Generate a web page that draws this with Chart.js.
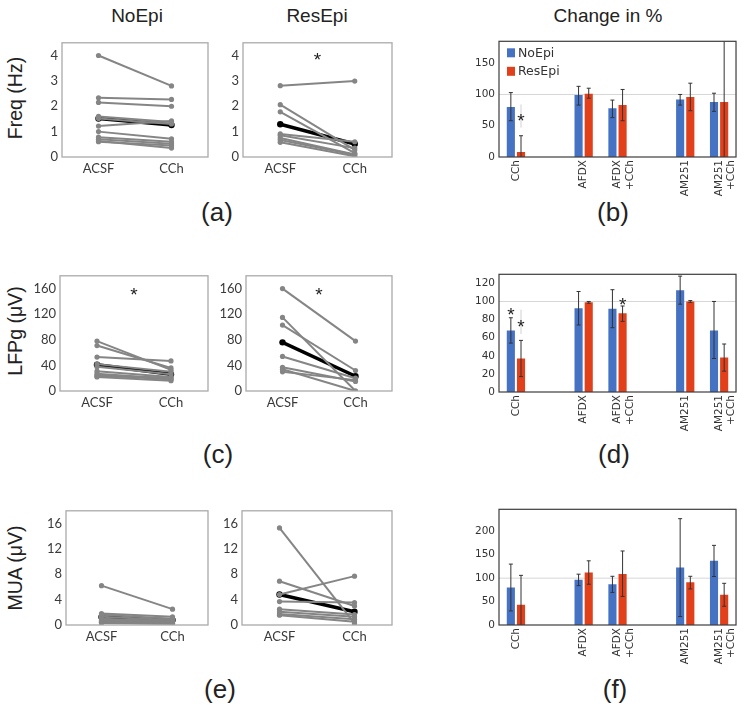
<!DOCTYPE html>
<html><head><meta charset="utf-8">
<script src="https://cdn.jsdelivr.net/npm/chart.js@4.4.1/dist/chart.umd.min.js"></script>
<style>
html,body{margin:0;padding:0;background:#fff;}
#fig{position:relative;width:745px;height:708px;overflow:hidden;font-family:"Liberation Sans",Arial,sans-serif;color:#222;}
.t{position:absolute;transform:translate(-50%,-50%);white-space:nowrap;font-size:19px;line-height:1;}
.r{position:absolute;transform:translate(-50%,-50%) rotate(-90deg);white-space:nowrap;font-size:19.5px;line-height:1;}
.l{position:absolute;transform:translate(-50%,-50%);white-space:nowrap;font-size:26px;line-height:1;}
canvas{position:absolute;}
</style></head><body>
<div id="fig">
  <div class="t" style="left:137px;top:15px">NoEpi</div>
  <div class="t" style="left:317px;top:15px">ResEpi</div>
  <div class="t" style="left:608px;top:15px">Change in %</div>
  <div class="r" style="left:16px;top:98px">Freq (Hz)</div>
  <div class="r" style="left:16px;top:331px">LFPg (μV)</div>
  <div class="r" style="left:16px;top:568px">MUA (μV)</div>
  <div class="l" style="left:217px;top:212px">(a)</div>
  <div class="l" style="left:613px;top:212px">(b)</div>
  <div class="l" style="left:218px;top:454px">(c)</div>
  <div class="l" style="left:614px;top:454px">(d)</div>
  <div class="l" style="left:220px;top:689px">(e)</div>
  <div class="l" style="left:615px;top:689px">(f)</div>
</div>
<script>
// ---------- data ----------
const conditions = ['ACSF', 'CCh'];

const freqNoEpi = [[4.0,2.8],[2.33,2.27],[2.15,2.0],[1.6,1.38],[1.52,1.3],[1.22,1.42],[1.0,0.72],[0.78,0.6],[0.7,0.52],[0.63,0.35],[0.6,0.45]];
const freqNoEpiMean = [1.52,1.26];
const freqResEpi = [[2.81,2.99],[2.06,0.28],[1.78,0.15],[0.91,0.6],[0.86,0.35],[0.75,0.1],[0.67,0.09],[0.58,0.03]];
const freqResEpiMean = [1.29,0.51];

const lfpNoEpi = [[78,33],[71,36],[53,47],[42,30],[38,26],[31,22],[27,19],[25,18],[22,16],[23,21]];
const lfpNoEpiMean = [41,26];
const lfpResEpi = [[160,78],[115,0],[103,32],[54,20],[37,15],[34,0],[30,17]];
const lfpResEpiMean = [76,23];

const muaNoEpi = [[6.2,2.5],[1.8,1.3],[1.6,1.0],[1.3,0.8],[1.0,0.6],[0.8,0.7],[0.7,0.5],[0.6,0.4],[0.5,0.3],[0.4,0.3],[0.4,0.2],[0.3,0.2]];
const muaNoEpiMean = [1.25,0.8];
const muaResEpi = [[15.3,0.25],[6.9,3.0],[4.8,7.7],[3.7,3.55],[2.5,1.65],[2.1,1.3],[1.75,0.9],[1.55,0.5]];
const muaResEpiMean = [4.8,2.1];

const freqTicks = [0,1,2,3,4];
const lfpTicks = [0,40,80,120,160];
const muaTicks = [0,4,8,12,16];

const barCategories = ['CCh','', 'AFDX', ['AFDX','+CCh'], '', 'AM251', ['AM251','+CCh']];
const seriesNames = ['NoEpi','ResEpi'];

const freqPctNoEpi = [80,null,99,78,null,92,88];
const freqPctNoEpiErr = [[58,103],null,[83,113],[63,91],null,[83,100],[73,102]];
const freqPctResEpi = [8,null,101,83,null,96,88];
const freqPctResEpiErr = [[-18,34],null,[94,110],[58,108],null,[74,118],[-10,200]];

const lfpPctNoEpi = [68,null,92.5,92,null,112.5,68];
const lfpPctNoEpiErr = [[54,82],null,[74,111],[71,113],null,[97,128],[37,100]];
const lfpPctResEpi = [37,null,99,87,null,100,38];
const lfpPctResEpiErr = [[17,57],null,[98,100],[78,95],null,[99,101],[23,53]];

const muaPctNoEpi = [80,null,96.5,87,null,123,137];
const muaPctNoEpiErr = [[30,130],null,[84,108.5],[69.5,104],null,[18,227],[103.5,170]];
const muaPctResEpi = [43,null,112,109,null,91,64.5];
const muaPctResEpiErr = [[-20,106],null,[87,137],[61,158],null,[77,104],[40,89]];

const pctTicksB = [0,50,100,150];
const pctTicksD = [0,20,40,60,80,100,120];
const pctTicksF = [0,50,100,150,200];

// ---------- styling ----------
const GRAY = '#858585';
const BLUE = '#4672c4';
const RED = '#e2401b';
const PAD_T = 10, PAD_R = 10, YW = 40;

const framePlugin = {
  id: 'frame',
  afterDraw(chart, args, o) {
    const {ctx, chartArea: a} = chart;
    ctx.save(); ctx.strokeStyle = o.color; ctx.lineWidth = o.width;
    ctx.strokeRect(a.left, a.top, a.right - a.left, a.bottom - a.top);
    ctx.restore();
  }
};
const refLinePlugin = {
  id: 'refLine',
  beforeDatasetsDraw(chart, args, o) {
    if (o.value == null) return;
    const {ctx, chartArea: a} = chart;
    const y = chart.scales.y.getPixelForValue(o.value);
    ctx.save(); ctx.strokeStyle = '#d6d6d6'; ctx.lineWidth = 1;
    ctx.beginPath(); ctx.moveTo(a.left, y); ctx.lineTo(a.right, y); ctx.stroke(); ctx.restore();
  }
};
const errPlugin = {
  id: 'errBars',
  afterDatasetsDraw(chart) {
    const {ctx, chartArea: a} = chart;
    const ys = chart.scales.y;
    ctx.save();
    ctx.beginPath(); ctx.rect(a.left, a.top, a.right - a.left, a.bottom - a.top); ctx.clip();
    ctx.strokeStyle = '#333'; ctx.lineWidth = 1;
    chart.data.datasets.forEach((ds, i) => {
      if (!ds.errors) return;
      const meta = chart.getDatasetMeta(i);
      ds.errors.forEach((e, j) => {
        if (!e) return;
        const x = meta.data[j].x;
        const y1 = ys.getPixelForValue(e[0]), y2 = ys.getPixelForValue(e[1]);
        ctx.beginPath();
        ctx.moveTo(x, y1); ctx.lineTo(x, y2);
        ctx.moveTo(x - 2, y1); ctx.lineTo(x + 2, y1);
        ctx.moveTo(x - 2, y2); ctx.lineTo(x + 2, y2);
        ctx.stroke();
      });
    });
    ctx.restore();
  }
};
const starPlugin = {
  id: 'stars',
  afterDraw(chart, args, o) {
    const {ctx} = chart;
    ctx.save();
    (o.faint || []).forEach(f => {
      const x = chart.getDatasetMeta(f.ds).data[f.cat].x;
      ctx.strokeStyle = '#d0d0d0'; ctx.lineWidth = 1;
      ctx.beginPath();
      ctx.moveTo(x, chart.scales.y.getPixelForValue(f.from));
      ctx.lineTo(x, chart.scales.y.getPixelForValue(f.to));
      ctx.stroke();
    });
    ctx.fillStyle = '#222'; ctx.font = '19px "Liberation Sans", Arial'; ctx.textAlign = 'center'; ctx.textBaseline = 'alphabetic';
    (o.items || []).forEach(s => {
      const x = s.ds != null ? chart.getDatasetMeta(s.ds).data[s.cat].x : chart.scales.x.getPixelForValue(s.x);
      const y = chart.scales.y.getPixelForValue(s.y);
      ctx.fillText('*', x, y + 11);
    });
    ctx.restore();
  }
};
const legendPlugin = {
  id: 'inLegend',
  afterDraw(chart, args, o) {
    if (!o.show) return;
    const {ctx, chartArea: a} = chart;
    ctx.save();
    ctx.font = '12.5px "DejaVu Sans"'; ctx.textBaseline = 'middle'; ctx.textAlign = 'left';
    chart.data.datasets.forEach((ds, i) => {
      const y = a.top + 7 + i * 18.5;
      ctx.fillStyle = ds.backgroundColor;
      ctx.fillRect(a.left + 8, y, 8, 9);
      ctx.fillStyle = '#333';
      ctx.fillText(ds.label, a.left + 19, y + 5);
    });
    ctx.restore();
  }
};

function makeCanvas(box, xh) {
  const c = document.createElement('canvas');
  const w = YW + (box.r - box.l) + PAD_R, h = PAD_T + (box.b - box.t) + xh;
  c.width = w; c.height = h;
  c.style.left = (box.l - YW) + 'px'; c.style.top = (box.t - PAD_T) + 'px';
  c.style.width = w + 'px'; c.style.height = h + 'px';
  document.getElementById('fig').appendChild(c);
  return c;
}

function lineChart(box, pairs, mean, yMax, yTicks, stars) {
  const XH = 25;
  const c = makeCanvas(box, XH);
  const datasets = pairs.map(p => ({
    data: p, borderColor: GRAY, backgroundColor: GRAY, pointBackgroundColor: GRAY, pointBorderColor: GRAY,
    borderWidth: 2, pointRadius: 2.6, pointBorderWidth: 0
  }));
  datasets.push({data: mean, borderColor: '#000', backgroundColor: '#000', pointBackgroundColor: '#000',
    pointBorderColor: '#000', borderWidth: 3.5, pointRadius: 3.2, pointBorderWidth: 0});
  const tickFont = {family: 'Lato', size: 13};
  new Chart(c, {
    type: 'line',
    data: {labels: conditions, datasets},
    options: {
      responsive: false, animation: false, events: [],
      layout: {padding: {top: PAD_T, right: PAD_R, left: 0, bottom: 0}},
      plugins: {legend: {display: false}, tooltip: {enabled: false},
        frame: {color: '#aaaaaa', width: 1.3}, stars: {items: stars}, refLine: {}, inLegend: {}},
      scales: {
        x: {type: 'category', offset: true, grid: {display: false, drawTicks: false}, border: {display: false},
          ticks: {padding: 4, font: tickFont, color: '#3a3a3a', maxRotation: 0, autoSkip: false},
          afterFit: s => { s.height = XH; }},
        y: {min: 0, max: yMax, bounds: 'data', grid: {display: false, drawTicks: false}, border: {display: false},
          ticks: {padding: 4, font: tickFont, color: '#3a3a3a'},
          afterBuildTicks: s => { s.ticks = yTicks.map(v => ({value: v})); },
          afterFit: s => { s.width = YW; }}
      }
    },
    plugins: [framePlugin, starPlugin]
  });
}

function barChart(box, noEpi, noEpiErr, resEpi, resEpiErr, yMax, yTicks, stars, faint, showLegend) {
  const XH = 55;
  const c = makeCanvas(box, XH);
  const tickFont = {family: 'DejaVu Sans', size: 10.5};
  new Chart(c, {
    type: 'bar',
    data: {labels: barCategories, datasets: [
      {label: seriesNames[0], data: noEpi, errors: noEpiErr, backgroundColor: BLUE, barPercentage: 0.8, categoryPercentage: 0.6},
      {label: seriesNames[1], data: resEpi, errors: resEpiErr, backgroundColor: RED, barPercentage: 0.8, categoryPercentage: 0.6}
    ]},
    options: {
      responsive: false, animation: false, events: [],
      layout: {padding: {top: PAD_T, right: PAD_R, left: 0, bottom: 0}},
      plugins: {legend: {display: false}, tooltip: {enabled: false},
        frame: {color: '#3c3c3c', width: 1.2}, refLine: {value: 100},
        stars: {items: stars, faint: faint}, inLegend: {show: showLegend}},
      scales: {
        x: {grid: {display: false, drawTicks: false}, border: {display: false},
          ticks: {padding: 3, font: tickFont, color: '#333', minRotation: 90, maxRotation: 90, autoSkip: false},
          afterFit: s => { s.height = XH; }},
        y: {min: 0, max: yMax, bounds: 'data', grid: {display: false, drawTicks: false}, border: {display: false},
          ticks: {padding: 4, font: tickFont, color: '#333'},
          afterBuildTicks: s => { s.ticks = yTicks.map(v => ({value: v})); },
          afterFit: s => { s.width = YW; }}
      }
    },
    plugins: [refLinePlugin, errPlugin, framePlugin, starPlugin, legendPlugin]
  });
}

// ---------- panels ----------
lineChart({l:62,t:41,r:208,b:157}, freqNoEpi, freqNoEpiMean, 4.5, freqTicks, []);
lineChart({l:243,t:41,r:392,b:157}, freqResEpi, freqResEpiMean, 4.5, freqTicks, [{x:0.5, y:4.0}]);
lineChart({l:60,t:274,r:208,b:391}, lfpNoEpi, lfpNoEpiMean, 180, lfpTicks, [{x:0.5, y:158}]);
lineChart({l:246,t:274,r:392,b:391}, lfpResEpi, lfpResEpiMean, 180, lfpTicks, [{x:0.5, y:158}]);
lineChart({l:66,t:509,r:208,b:625}, muaNoEpi, muaNoEpiMean, 18, muaTicks, []);
lineChart({l:242,t:509,r:392,b:625}, muaResEpi, muaResEpiMean, 18, muaTicks, []);

barChart({l:499,t:41,r:738,b:157}, freqPctNoEpi, freqPctNoEpiErr, freqPctResEpi, freqPctResEpiErr, 185, pctTicksB,
  [{ds:1, cat:0, y:65}], [{ds:1, cat:0, from:47, to:84}], true);
barChart({l:499,t:274,r:738,b:392}, lfpPctNoEpi, lfpPctNoEpiErr, lfpPctResEpi, lfpPctResEpiErr, 130, pctTicksD,
  [{ds:0, cat:0, y:91}, {ds:1, cat:0, y:77}, {ds:1, cat:3, y:102}], [{ds:1, cat:0, from:64, to:91}], false);
barChart({l:499,t:509,r:738,b:625}, muaPctNoEpi, muaPctNoEpiErr, muaPctResEpi, muaPctResEpiErr, 247, pctTicksF,
  [], [], false);
</script>
</body></html>
